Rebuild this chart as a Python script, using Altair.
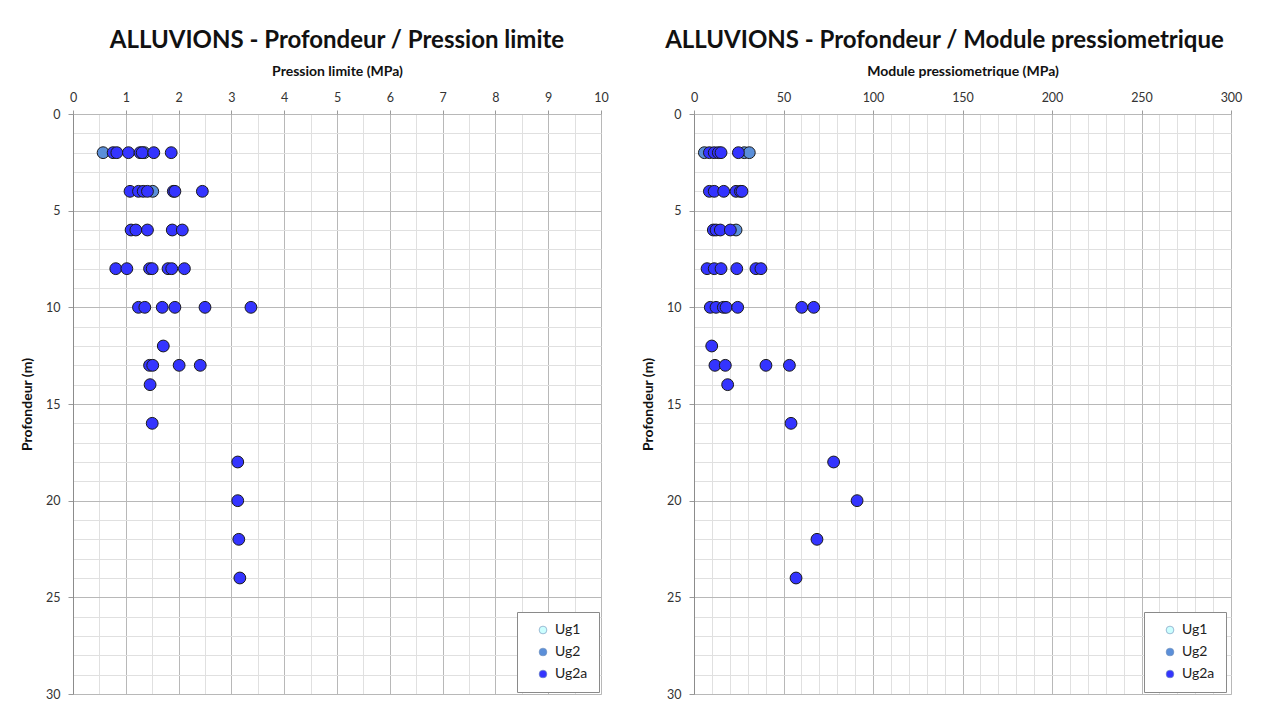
import altair as alt
import pandas as pd

groups = ["Ug1", "Ug2", "Ug2a"]
group_colors = ["#ccffff", "#5b8fd9", "#3434ff"]

# Pression limite (MPa) vs depth (m)
pl_depth = [2, 2,
            2, 2, 2, 2, 2, 2, 2,
            4,
            4, 4, 4, 4, 4, 4, 4,
            6, 6, 6, 6, 6,
            8, 8, 8, 8, 8, 8, 8,
            10, 10, 10, 10, 10, 10,
            12, 13, 13, 13, 13, 14, 16,
            18, 20, 22, 24]
pl_value = [0.57, 1.35,
            0.76, 0.83, 1.05, 1.27, 1.31, 1.53, 1.86,
            1.51,
            1.08, 1.24, 1.33, 1.41, 1.90, 1.93, 2.45,
            1.10, 1.19, 1.41, 1.88, 2.07,
            0.81, 1.02, 1.45, 1.50, 1.80, 1.87, 2.11,
            1.24, 1.36, 1.69, 1.93, 2.50, 3.37,
            1.71, 1.45, 1.51, 2.01, 2.41, 1.46, 1.50,
            3.12, 3.12, 3.14, 3.16]
pl_group = ["Ug2", "Ug2",
            "Ug2a", "Ug2a", "Ug2a", "Ug2a", "Ug2a", "Ug2a", "Ug2a",
            "Ug2",
            "Ug2a", "Ug2a", "Ug2a", "Ug2a", "Ug2a", "Ug2a", "Ug2a",
            "Ug2a", "Ug2a", "Ug2a", "Ug2a", "Ug2a",
            "Ug2a", "Ug2a", "Ug2a", "Ug2a", "Ug2a", "Ug2a", "Ug2a",
            "Ug2a", "Ug2a", "Ug2a", "Ug2a", "Ug2a", "Ug2a",
            "Ug2a", "Ug2a", "Ug2a", "Ug2a", "Ug2a", "Ug2a", "Ug2a",
            "Ug2a", "Ug2a", "Ug2a", "Ug2a"]

# Module pressiometrique (MPa) vs depth (m)
em_depth = [2, 2, 2,
            2, 2, 2, 2, 2,
            4, 4, 4, 4, 4, 4,
            6,
            6, 6, 6, 6,
            8, 8, 8, 8, 8, 8,
            10, 10, 10, 10, 10, 10, 10,
            12, 13, 13, 13, 13, 14, 16,
            18, 20, 22, 24]
em_value = [5.8, 28.1, 30.9,
            8.6, 11.3, 13.6, 15.1, 24.8,
            8.6, 11.3, 16.6, 23.5, 25.9, 26.8,
            23.5,
            10.8, 12.3, 14.7, 20.3,
            7.3, 11.3, 15.1, 23.9, 34.6, 37.4,
            9.1, 12.3, 16.4, 17.9, 24.4, 60.2, 66.9,
            9.9, 11.7, 17.5, 40.2, 53.3, 18.8, 54.2,
            78.0, 91.1, 68.7, 57.0]
em_group = ["Ug2", "Ug2", "Ug2",
            "Ug2a", "Ug2a", "Ug2a", "Ug2a", "Ug2a",
            "Ug2a", "Ug2a", "Ug2a", "Ug2a", "Ug2a", "Ug2a",
            "Ug2",
            "Ug2a", "Ug2a", "Ug2a", "Ug2a",
            "Ug2a", "Ug2a", "Ug2a", "Ug2a", "Ug2a", "Ug2a",
            "Ug2a", "Ug2a", "Ug2a", "Ug2a", "Ug2a", "Ug2a", "Ug2a",
            "Ug2a", "Ug2a", "Ug2a", "Ug2a", "Ug2a", "Ug2a", "Ug2a",
            "Ug2a", "Ug2a", "Ug2a", "Ug2a"]

pl_ticks = [i * 0.5 for i in range(0, 21)]
em_ticks = [i * 10 for i in range(0, 31)]
depth_ticks = list(range(0, 31))

FONT = "Lato"
MAJOR = "#b8b8b8"
MINOR = "#e0e0e0"


def panel(depths, values, grps, xdomain, xticks, major, xtitle, title, width, legend_x, title_dx):
    df = pd.DataFrame({"depth": depths, "value": values, "group": grps})
    df["ord"] = df["group"].map({g: i for i, g in enumerate(groups)})
    return alt.Chart(df).mark_circle(
        size=140, opacity=1, stroke="#1a1a1a", strokeWidth=1
    ).encode(
        x=alt.X("value:Q",
                scale=alt.Scale(domain=xdomain, nice=False, zero=False),
                axis=alt.Axis(
                    orient="top", values=xticks, title=xtitle, labelFlush=False,
                    labelExpr=f"datum.value % {major} === 0 ? '' + datum.value : ''",
                    gridColor={"condition": {"test": f"datum.value % {major} === 0", "value": MAJOR}, "value": MINOR},
                    tickOpacity={"condition": {"test": f"datum.value % {major} === 0", "value": 1}, "value": 0},
                    domain=False, tickColor="#9a9a9a", tickSize=4,
                    labelPadding=6, labelFontSize=12.5, labelColor="#333333", labelFont=FONT,
                    titleFont=FONT, titleFontSize=14, titleFontWeight="bold", titleColor="#111111",
                    titlePadding=13)),
        y=alt.Y("depth:Q",
                scale=alt.Scale(domain=[0, 30], reverse=True, nice=False, zero=False),
                axis=alt.Axis(
                    orient="left", values=depth_ticks, title="Profondeur (m)", labelFlush=False,
                    labelExpr="datum.value % 5 === 0 ? '' + datum.value : ''",
                    gridColor={"condition": {"test": "datum.value % 5 === 0", "value": MAJOR}, "value": MINOR},
                    tickOpacity={"condition": {"test": "datum.value % 5 === 0", "value": 1}, "value": 0},
                    domain=True, domainColor="#8c8c8c", tickColor="#9a9a9a", tickSize=5,
                    labelPadding=8, labelFontSize=12.5, labelColor="#333333", labelFont=FONT,
                    titleFont=FONT, titleFontSize=14, titleFontWeight="bold", titleColor="#111111",
                    titlePadding=11)),
        color=alt.Color("group:N",
                        scale=alt.Scale(domain=groups, range=group_colors),
                        legend=alt.Legend(
                            title=None, orient="none", legendX=legend_x, legendY=498,
                            direction="vertical", fillColor="white", strokeColor="#8a8a8a",
                            padding=11, rowPadding=8, symbolType="circle", symbolSize=60,
                            symbolStrokeColor="#6f8fb8", symbolStrokeWidth=0.6,
                            labelFont=FONT, labelFontSize=14, labelColor="#222222",
                            symbolOffset=8, labelOffset=5)),
        order=alt.Order("ord:Q"),
    ).properties(
        width=width, height=580,
        title=alt.TitleParams(title, font=FONT, fontSize=24, fontWeight="bold",
                              color="#111111", anchor="middle", offset=11, dx=title_dx),
    )


left = panel(pl_depth, pl_value, pl_group, [0, 10], pl_ticks, 1,
             "Pression limite (MPa)", "ALLUVIONS - Profondeur / Pression limite",
             528, 444, 0)
right = panel(em_depth, em_value, em_group, [0, 300], em_ticks, 50,
              "Module pressiometrique (MPa)", "ALLUVIONS - Profondeur / Module pressiometrique",
              537, 450, -18)

chart = alt.hconcat(left, right, spacing=32).resolve_scale(
    color="independent"
).resolve_legend(
    color="independent"
).properties(
    padding={"left": 12, "top": 20, "right": 0, "bottom": 0}
).configure_view(stroke=None).configure(background="white")

chart.save("out.html", embed_options={"renderer": "svg", "actions": False})
